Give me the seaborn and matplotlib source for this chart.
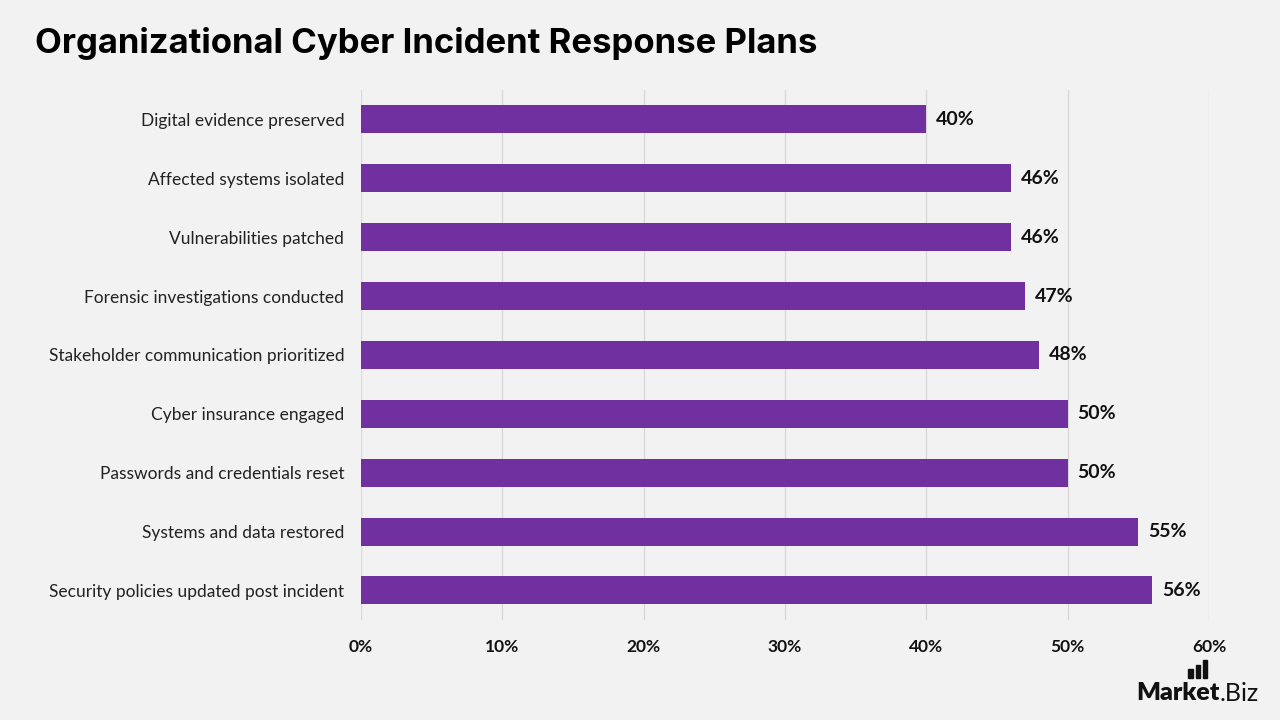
import matplotlib
matplotlib.use("Agg")
import matplotlib.pyplot as plt
import matplotlib.patches as mpatches
import seaborn as sns
import pandas as pd
from matplotlib.ticker import FuncFormatter

# Datos del gráfico
categorias = [
    "Digital evidence preserved",
    "Affected systems isolated",
    "Vulnerabilities patched",
    "Forensic investigations conducted",
    "Stakeholder communication prioritized",
    "Cyber insurance engaged",
    "Passwords and credentials reset",
    "Systems and data restored",
    "Security policies updated post incident",
]
valores = [40, 46, 46, 47, 48, 50, 50, 55, 56]
ticks_x = [0, 10, 20, 30, 40, 50, 60]

df = pd.DataFrame({"categoria": categorias, "valor": valores})

fondo = "#f2f2f2"
morado = "#7030a0"

sns.set_style("white")
plt.rcParams["font.family"] = ["Lato", "DejaVu Sans"]

fig = plt.figure(figsize=(12.8, 7.2), dpi=100, facecolor=fondo)
ax = fig.add_axes([0.282, 0.139, 0.6625, 0.736])
ax.set_facecolor(fondo)

sns.barplot(data=df, x="valor", y="categoria", orient="h", color=morado,
            width=0.475, saturation=1, linewidth=0, ax=ax, zorder=3)

ax.set_xlim(0, 60)
ax.set_xticks(ticks_x)
ax.xaxis.set_major_formatter(FuncFormatter(lambda v, p: f"{v:.0f}%"))
ax.grid(axis="x", color="#d9d9d9", linewidth=1, zorder=0)
ax.set_xlabel("")
ax.set_ylabel("")
for s in ax.spines.values():
    s.set_visible(False)
ax.tick_params(axis="both", length=0)
ax.tick_params(axis="y", pad=12, labelsize=12.5, labelcolor="#222222")
ax.tick_params(axis="x", pad=14, labelsize=12.5, labelcolor="#111111")
for t in ax.get_xticklabels():
    t.set_fontweight("bold")

# Etiquetas de valores
for cont in ax.containers:
    ax.bar_label(cont, labels=[f"{v}%" for v in valores], padding=7,
                 fontsize=14, fontweight="bold", color="#111111")

# Título
fig.text(0.027, 0.94, "Organizational Cyber Incident Response Plans",
         fontsize=25, fontweight="bold", color="black", va="center", ha="left",
         family=["Inter", "DejaVu Sans"])

# Logo
fig.text(0.953, 0.037, "Market", fontsize=18, fontweight="heavy", color="#111111",
         ha="right", va="center")
fig.text(0.953, 0.037, ".Biz", fontsize=18, color="#111111", ha="left", va="center")
for i, h in enumerate([0.012, 0.018, 0.024]):
    fig.patches.append(mpatches.Rectangle((0.9285 + i * 0.0058, 0.059), 0.0032, h,
                                          transform=fig.transFigure,
                                          color="#111111"))

fig.savefig("out.png", dpi=100, facecolor=fondo)
